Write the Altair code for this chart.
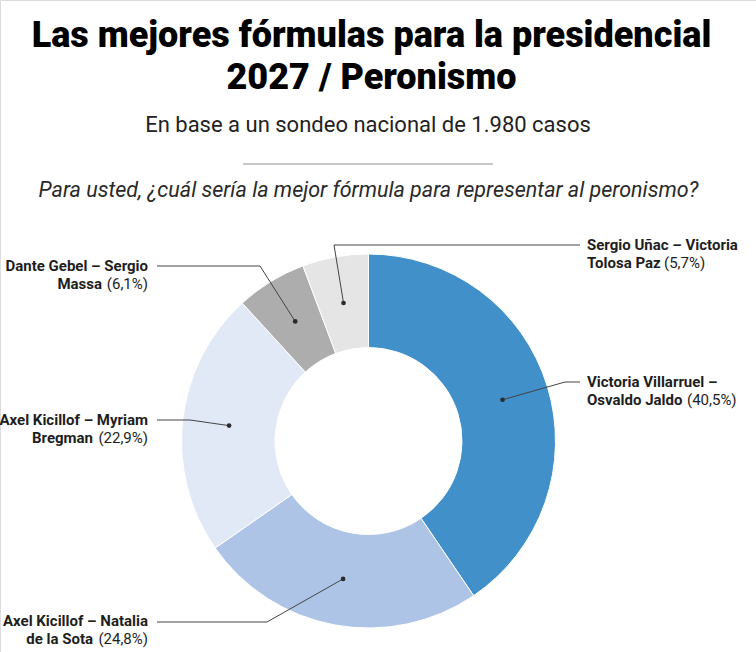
import math
import altair as alt
import pandas as pd

# Survey results: best presidential ticket for Peronism (2027)
formulas = [
    "Victoria Villarruel – Osvaldo Jaldo",
    "Axel Kicillof – Natalia de la Sota",
    "Axel Kicillof – Myriam Bregman",
    "Dante Gebel – Sergio Massa",
    "Sergio Uñac – Victoria Tolosa Paz",
]
shares = [40.5, 24.8, 22.9, 6.1, 5.7]
colors = ["#4190c9", "#adc4e7", "#e2e9f6", "#adadad", "#e5e5e5"]

# How each label is broken into two lines (second line gets the percentage)
label_line1 = [
    "Victoria Villarruel –",
    "Axel Kicillof – Natalia",
    "Axel Kicillof – Myriam",
    "Dante Gebel – Sergio",
    "Sergio Uñac – Victoria",
]
label_line2 = ["Osvaldo Jaldo", "de la Sota", "Bregman", "Massa", "Tolosa Paz"]

title_lines = ["Las mejores fórmulas para la presidencial", "2027 / Peronismo"]
subtitle = "En base a un sondeo nacional de 1.980 casos"
question = "Para usted, ¿cuál sería la mejor fórmula para representar al peronismo?"

# ---- layout (pixels) ----
W, H = 756, 652
CX, CY = 368.5, 441.0
R_OUT, R_IN = 187.0, 93.5
R_DOT = (R_OUT + R_IN) / 2

# per label: side, text x, first baseline, elbow point, end of leader, x where the
# percentage starts (right side) or where the bold part ends (left side)
label_layout = [
    dict(side="right", tx=587, by=387, ex=565, ey=382, lx=580, px=687),
    dict(side="left", tx=148, by=626, ex=267, ey=622, lx=157, px=93),
    dict(side="left", tx=148, by=425, ex=190, ey=420, lx=157, px=93),
    dict(side="left", tx=148, by=271, ex=260, ey=266, lx=157, px=102),
    dict(side="right", tx=587, by=250, ex=334, ey=245, lx=580, px=664),
]
LINE_GAP = 18
LABEL_SIZE = 15

def pct_text(v):
    return f"({v:.1f}%)".replace(".", ",")

pie = pd.DataFrame({"formula": formulas, "share": shares, "idx": range(len(shares))})

# anchor dots at the middle of each ring segment
cum = 0.0
dots, leaders, bold_rows, pct_rows = [], [], [], []
for i, (name, v) in enumerate(zip(formulas, shares)):
    mid = (cum + v / 2) / 100 * 2 * math.pi
    cum += v
    dx = CX + R_DOT * math.sin(mid)
    dy = CY - R_DOT * math.cos(mid)
    lay = label_layout[i]
    dots.append({"formula": name, "x": dx, "y": dy})
    for k, (px_, py_) in enumerate([(dx, dy), (lay["ex"], lay["ey"]), (lay["lx"], lay["ey"])]):
        leaders.append({"formula": name, "k": k, "x": px_, "y": py_})
    align = "left" if lay["side"] == "right" else "right"
    bold_rows.append({"text": label_line1[i], "x": lay["tx"], "y": lay["by"], "align": align})
    if lay["side"] == "right":
        bold_rows.append({"text": label_line2[i], "x": lay["tx"], "y": lay["by"] + LINE_GAP, "align": "left"})
        pct_rows.append({"text": pct_text(v), "x": lay["px"], "y": lay["by"] + LINE_GAP, "align": "left"})
    else:
        bold_rows.append({"text": label_line2[i], "x": lay["px"], "y": lay["by"] + LINE_GAP, "align": "right"})
        pct_rows.append({"text": pct_text(v), "x": lay["tx"], "y": lay["by"] + LINE_GAP, "align": "right"})

dots = pd.DataFrame(dots)
leaders = pd.DataFrame(leaders)
bold_left = pd.DataFrame([r for r in bold_rows if r["align"] == "left"])
bold_right = pd.DataFrame([r for r in bold_rows if r["align"] == "right"])
pct_left = pd.DataFrame([r for r in pct_rows if r["align"] == "left"])
pct_right = pd.DataFrame([r for r in pct_rows if r["align"] == "right"])

xs = alt.Scale(domain=[0, W], range=[0, W])
ys = alt.Scale(domain=[0, H], range=[0, H])
X = lambda f="x": alt.X(f"{f}:Q", scale=xs, axis=None)
Y = lambda f="y": alt.Y(f"{f}:Q", scale=ys, axis=None)

ring = alt.Chart(pie).mark_arc(
    innerRadius=R_IN, radius=R_OUT, stroke="white", strokeWidth=1
).encode(
    theta=alt.Theta("share:Q", stack=True),
    order=alt.Order("idx:Q"),
    color=alt.Color("formula:N", scale=alt.Scale(domain=formulas, range=colors), legend=None),
    x=alt.value(CX),
    y=alt.value(CY),
)

leader_lines = alt.Chart(leaders).mark_line(color="#444444", strokeWidth=1).encode(
    x=X(), y=Y(), detail="formula:N", order="k:Q"
)
dot_marks = alt.Chart(dots).mark_circle(color="#2b2b2b", size=22, opacity=1).encode(x=X(), y=Y())

LABEL_FONT = "Roboto"
def text_layer(df, align, weight):
    return alt.Chart(df).mark_text(
        align=align, baseline="alphabetic", font=LABEL_FONT, fontSize=LABEL_SIZE,
        fontWeight=weight, color="#1e1e1e",
    ).encode(x=X(), y=Y(), text="text:N")

labels = (
    text_layer(bold_left, "left", "bold")
    + text_layer(bold_right, "right", "bold")
    + text_layer(pct_left, "left", "normal")
    + text_layer(pct_right, "right", "normal")
)

heading = pd.DataFrame({"text": title_lines, "x": [371.5, 371.5], "y": [47, 89]})
title_marks = alt.Chart(heading).mark_text(
    align="center", baseline="alphabetic", font="Roboto", fontSize=36,
    fontWeight=900, color="#000000",
).encode(x=X(), y=Y(), text="text:N")

sub_df = pd.DataFrame({"text": [subtitle], "x": [368], "y": [132]})
sub_marks = alt.Chart(sub_df).mark_text(
    align="center", baseline="alphabetic", font="Roboto", fontSize=22,
    fontWeight=400, color="#222222",
).encode(x=X(), y=Y(), text="text:N")

q_df = pd.DataFrame({"text": [question], "x": [368.5], "y": [197]})
q_marks = alt.Chart(q_df).mark_text(
    align="center", baseline="alphabetic", font="Roboto", fontSize=21.5,
    fontStyle="italic", fontWeight=400, color="#2a2a2a",
).encode(x=X(), y=Y(), text="text:N")

divider_df = pd.DataFrame({"x": [243], "x2": [493], "y": [164]})
divider = alt.Chart(divider_df).mark_rule(color="#c8c8c8", strokeWidth=2).encode(
    x=X(), x2="x2:Q", y=Y()
)

chart = alt.layer(
    ring, leader_lines, dot_marks, labels, title_marks, sub_marks, divider, q_marks
).properties(
    width=W, height=H, padding=0, autosize=alt.AutoSizeParams(type="none")
).configure_view(stroke=None).configure(background="white")

chart.save("out.html", embed_options={"renderer": "svg", "actions": False})
